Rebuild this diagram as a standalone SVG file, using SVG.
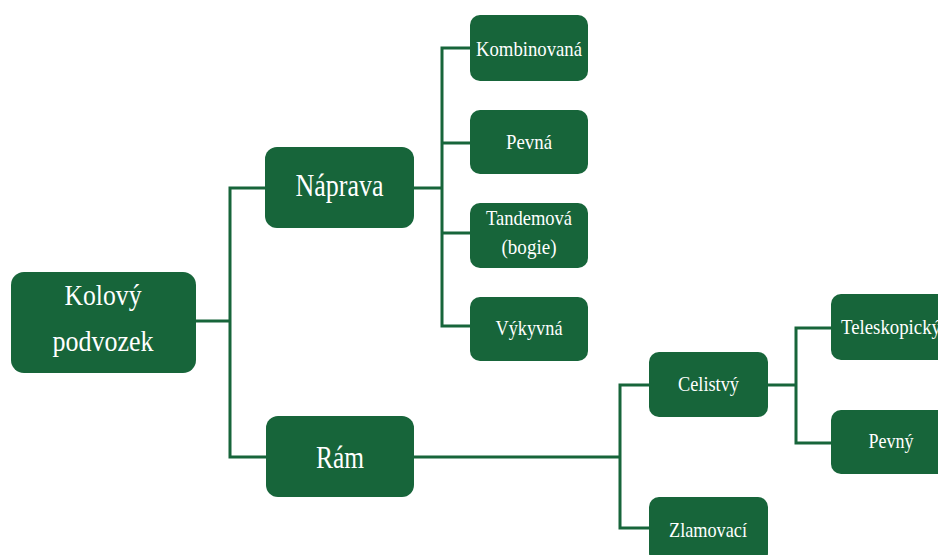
<svg xmlns="http://www.w3.org/2000/svg" width="938" height="555" viewBox="0 0 938 555">
<style>
.box{fill:#17653a;}
.lbl{font-family:"Liberation Serif","Times New Roman",serif;fill:#ffffff;text-anchor:middle;}
.s{font-size:22px;}
.m{font-size:32px;}
.l{font-size:29px;}
.conn{fill:none;stroke:#17653a;stroke-width:3;stroke-linejoin:miter;}
</style>
<rect width="938" height="555" fill="#ffffff"/>
<g id="connectors" class="conn">
<path d="M196,321 H230 M265,188 H230 V457 H266"/>
<path d="M414,188 H442 M470,48 H442 V326 H470 M442,143 H470 M442,233 H470"/>
<path d="M414,457 H620 M649,385 H620 V528 H649"/>
<path d="M768,385 H796 M831,328 H796 V443 H831"/>
</g>
<g id="root">
<rect class="box" x="11" y="272" width="185" height="101" rx="13"/>
<text class="lbl l" x="103" y="305" textLength="77" lengthAdjust="spacingAndGlyphs">Kolový</text>
<text class="lbl l" x="103" y="351" textLength="101" lengthAdjust="spacingAndGlyphs">podvozek</text>
</g>
<g id="naprava">
<rect class="box" x="265" y="147" width="149" height="81" rx="12"/>
<text class="lbl m" x="339.5" y="196" textLength="88" lengthAdjust="spacingAndGlyphs">Náprava</text>
</g>
<g id="ram">
<rect class="box" x="266" y="416" width="148" height="81" rx="12"/>
<text class="lbl m" x="340" y="468" textLength="48" lengthAdjust="spacingAndGlyphs">Rám</text>
</g>
<g id="kombinovana">
<rect class="box" x="470" y="15" width="118" height="66" rx="10"/>
<text class="lbl s" x="529" y="56" textLength="106" lengthAdjust="spacingAndGlyphs">Kombinovaná</text>
</g>
<g id="pevna">
<rect class="box" x="470" y="110" width="118" height="64" rx="10"/>
<text class="lbl s" x="529" y="149" textLength="46" lengthAdjust="spacingAndGlyphs">Pevná</text>
</g>
<g id="tandemova">
<rect class="box" x="470" y="203" width="118" height="65" rx="10"/>
<text class="lbl s" x="529" y="225" textLength="86" lengthAdjust="spacingAndGlyphs">Tandemová</text>
<text class="lbl s" x="529" y="254" textLength="55" lengthAdjust="spacingAndGlyphs">(bogie)</text>
</g>
<g id="vykyvna">
<rect class="box" x="470" y="297" width="118" height="64" rx="10"/>
<text class="lbl s" x="529" y="335" textLength="67" lengthAdjust="spacingAndGlyphs">Výkyvná</text>
</g>
<g id="celistvy">
<rect class="box" x="649" y="352" width="119" height="65" rx="10"/>
<text class="lbl s" x="708.5" y="391" textLength="61" lengthAdjust="spacingAndGlyphs">Celistvý</text>
</g>
<g id="zlamovaci">
<rect class="box" x="649" y="497" width="119" height="66" rx="10"/>
<text class="lbl s" x="708" y="537" textLength="78" lengthAdjust="spacingAndGlyphs">Zlamovací</text>
</g>
<g id="teleskopicky">
<rect class="box" x="831" y="294" width="120" height="66" rx="10"/>
<text class="lbl s" x="841" y="334" style="text-anchor:start" textLength="100" lengthAdjust="spacingAndGlyphs">Teleskopický</text>
</g>
<g id="pevny">
<rect class="box" x="831" y="410" width="120" height="64" rx="10"/>
<text class="lbl s" x="891" y="448" textLength="45" lengthAdjust="spacingAndGlyphs">Pevný</text>
</g>
</svg>
